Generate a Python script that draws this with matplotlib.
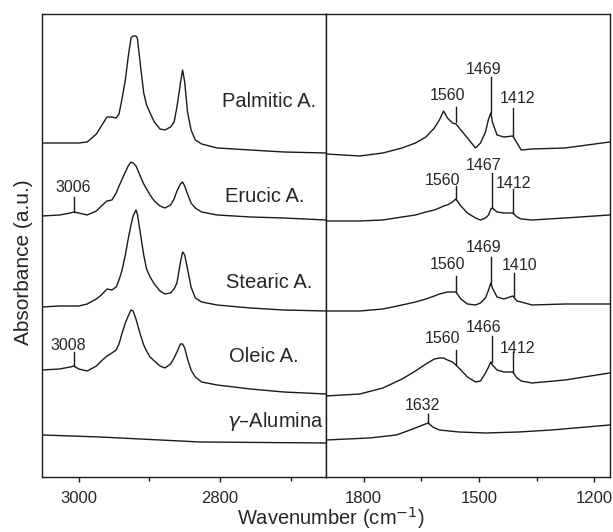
"""
FTIR spectra of fatty acids adsorbed on gamma-alumina, split x axis
(C-H stretch region on the left, carboxylate region on the right).
"""

import matplotlib

matplotlib.use("Agg")
import matplotlib.pyplot as plt
from matplotlib.ticker import FixedLocator

plt.rcParams["font.family"] = ["Liberation Sans", "DejaVu Sans"]
plt.rcParams["mathtext.fontset"] = "dejavusans"

C_LINE = "#1a1a1a"
C_TEXT = "#262626"

# ── Data: C-H stretching region (left panel) ─────────────────────────────────
LEFT_WN = [3052, 3027, 3012, 3007, 3000, 2988, 2975, 2968, 2960, 2953,
           2947, 2943, 2939, 2934, 2930, 2926, 2923, 2919, 2917, 2913,
           2908, 2904, 2899, 2893, 2885, 2878, 2870, 2865, 2861, 2856,
           2853, 2850, 2846, 2841, 2835, 2826, 2804, 2757, 2710, 2650]
palmitic_left = [3.34, 3.34, 3.34, 3.34, 3.34, 3.35, 3.43, 3.51, 3.60, 3.60,
                 3.59, 3.63, 3.77, 3.97, 4.20, 4.39, 4.41, 4.41, 4.39, 4.14,
                 3.84, 3.72, 3.64, 3.55, 3.48, 3.47, 3.50, 3.55, 3.70, 3.94,
                 4.07, 3.95, 3.65, 3.47, 3.37, 3.33, 3.29, 3.27, 3.25, 3.24]
erucic_left = [2.61, 2.62, 2.64, 2.65, 2.64, 2.62, 2.66, 2.71, 2.76, 2.77,
               2.84, 2.91, 2.97, 3.05, 3.11, 3.15, 3.14, 3.11, 3.08, 3.01,
               2.93, 2.88, 2.82, 2.76, 2.71, 2.69, 2.72, 2.78, 2.86, 2.93,
               2.95, 2.91, 2.83, 2.74, 2.69, 2.65, 2.62, 2.60, 2.59, 2.57]
stearic_left = [1.70, 1.71, 1.71, 1.71, 1.71, 1.73, 1.78, 1.82, 1.88, 1.87,
                1.90, 1.97, 2.06, 2.22, 2.38, 2.52, 2.61, 2.67, 2.63, 2.45,
                2.22, 2.08, 2.00, 1.93, 1.86, 1.83, 1.84, 1.88, 1.94, 2.15,
                2.25, 2.22, 2.08, 1.90, 1.79, 1.75, 1.72, 1.69, 1.67, 1.66]
oleic_left = [1.07, 1.08, 1.10, 1.11, 1.08, 1.06, 1.11, 1.16, 1.21, 1.24,
              1.27, 1.33, 1.43, 1.54, 1.61, 1.67, 1.66, 1.58, 1.53, 1.43,
              1.32, 1.26, 1.20, 1.16, 1.11, 1.09, 1.13, 1.19, 1.25, 1.33,
              1.33, 1.29, 1.18, 1.07, 1.00, 0.95, 0.92, 0.88, 0.85, 0.83]
ALU_L_WN = [3052, 2970, 2828, 2650]
alumina_left = [0.42, 0.40, 0.35, 0.34]

# ── Data: carboxylate region (right panel) ───────────────────────────────────
RIGHT_WN = [1898, 1810, 1750, 1700, 1665, 1638, 1616, 1603, 1592, 1582,
            1569, 1560, 1547, 1530, 1509, 1496, 1483, 1475, 1469, 1465,
            1453, 1435, 1412, 1401, 1390, 1362, 1276, 1160]
palmitic_right = [3.23, 3.21, 3.24, 3.29, 3.34, 3.40, 3.49, 3.57, 3.66, 3.59,
                  3.54, 3.53, 3.47, 3.39, 3.29, 3.34, 3.45, 3.58, 3.64, 3.55,
                  3.42, 3.40, 3.41, 3.34, 3.27, 3.28, 3.29, 3.35]
erucic_right = [2.56, 2.56, 2.57, 2.60, 2.62, 2.65, 2.67, 2.69, 2.71, 2.72,
                2.75, 2.78, 2.71, 2.64, 2.59, 2.57, 2.59, 2.62, 2.68, 2.69,
                2.65, 2.64, 2.64, 2.60, 2.58, 2.57, 2.59, 2.62]
stearic_right = [1.66, 1.66, 1.68, 1.72, 1.75, 1.78, 1.81, 1.83, 1.84, 1.85,
                 1.85, 1.85, 1.78, 1.73, 1.72, 1.74, 1.79, 1.87, 1.94, 1.89,
                 1.80, 1.78, 1.81, 1.76, 1.75, 1.72, 1.73, 1.73]
oleic_right = [0.81, 0.83, 0.89, 0.98, 1.06, 1.13, 1.18, 1.19, 1.19, 1.17,
               1.15, 1.12, 1.07, 1.00, 0.95, 0.96, 1.04, 1.10, 1.15, 1.12,
               1.07, 1.05, 1.05, 0.99, 0.96, 0.94, 0.97, 1.04]
ALU_R_WN = [1898, 1785, 1715, 1672, 1646, 1632, 1620, 1603, 1552, 1483, 1397, 1311, 1160]
alumina_right = [0.37, 0.39, 0.42, 0.48, 0.52, 0.54, 0.50, 0.47, 0.45, 0.44, 0.45, 0.47, 0.52]

# ── Curve names ──────────────────────────────────────────────────────────────
NAMES = ["Palmitic A.", "Erucic A.", "Stearic A.", "Oleic A.", r"$\gamma$–Alumina"]
NAME_WN = [2730, 2736, 2730, 2738, 2722]
NAME_Y = [3.70, 2.75, 1.89, 1.15, 0.50]

# ── Peak markers: panel, line x, line bottom/top, label, label x, label y ────
MARK_PANEL = ["L", "L", "R", "R", "R", "R", "R", "R", "R", "R", "R", "R", "R", "R", "R"]
MARK_WN = [3007, 3007, 1560, 1469, 1412, 1560, 1467, 1412, 1560, 1469, 1410, 1560, 1466, 1412, 1632]
MARK_Y0 = [2.65, 1.11, 3.55, 3.64, 3.41, 2.78, 2.69, 2.64, 1.85, 1.94, 1.81, 1.12, 1.15, 1.05, 0.54]
MARK_Y1 = [2.80, 1.25, 3.70, 4.00, 3.69, 2.91, 3.04, 2.88, 2.01, 2.20, 2.04, 1.27, 1.41, 1.25, 0.63]
MARK_TEXT = ["3006", "3008", "1560", "1469", "1412", "1560", "1467", "1412",
             "1560", "1469", "1410", "1560", "1466", "1412", "1632"]
MARK_TX = [3008, 3015, 1583, 1488, 1399, 1596, 1487, 1410, 1583, 1488, 1394, 1596, 1487, 1400, 1647]
MARK_TY = [2.85, 1.27, 3.77, 4.03, 3.74, 2.92, 3.07, 2.89, 2.08, 2.25, 2.07, 1.34, 1.45, 1.24, 0.67]

fig = plt.figure(figsize=(6.13, 5.32), dpi=100)
fig.patch.set_facecolor("white")
ax_l = fig.add_axes([0.0685, 0.1034, 0.4633, 0.8703])
ax_r = fig.add_axes([0.5318, 0.1034, 0.4633, 0.8703])

for ys in [palmitic_left, erucic_left, stearic_left, oleic_left]:
    ax_l.plot(LEFT_WN, ys, color=C_LINE, lw=1.0)
ax_l.plot(ALU_L_WN, alumina_left, color=C_LINE, lw=1.0)
for ys in [palmitic_right, erucic_right, stearic_right, oleic_right]:
    ax_r.plot(RIGHT_WN, ys, color=C_LINE, lw=1.0)
ax_r.plot(ALU_R_WN, alumina_right, color=C_LINE, lw=1.0)

ax_l.set_xlim(3052, 2650)
ax_r.set_xlim(1898, 1159)
for ax in (ax_l, ax_r):
    ax.set_ylim(0, 4.63)
    ax.set_yticks([])
    for s in ax.spines.values():
        s.set_linewidth(1.0)
        s.set_color(C_LINE)
    ax.tick_params(axis="x", which="major", direction="out", length=3.8, width=1.0,
                   pad=6, labelsize=12, colors=C_LINE, labelcolor=C_TEXT)
    ax.tick_params(axis="x", which="minor", direction="out", length=2.7, width=1.0,
                   colors=C_LINE)

ax_l.xaxis.set_major_locator(FixedLocator([3000, 2800]))
ax_l.xaxis.set_minor_locator(FixedLocator([2900, 2700]))
ax_r.xaxis.set_major_locator(FixedLocator([1800, 1500, 1200]))
ax_r.xaxis.set_minor_locator(FixedLocator([1650, 1350]))

# curve names
for name, x, y in zip(NAMES, NAME_WN, NAME_Y):
    ax_l.text(x, y, name, ha="center", va="baseline", fontsize=14.5, color=C_TEXT)

# peak markers
for p, x, y0, y1, t, tx, ty in zip(MARK_PANEL, MARK_WN, MARK_Y0, MARK_Y1,
                                   MARK_TEXT, MARK_TX, MARK_TY):
    ax = ax_l if p == "L" else ax_r
    ax.plot([x, x], [y0, y1], color=C_LINE, lw=1.0)
    ax.text(tx, ty, t, ha="center", va="baseline", fontsize=11.5, color=C_TEXT)

fig.text(0.54, 0.014, "Wavenumber (cm$^{-1}$)", ha="center", va="baseline",
         fontsize=14.5, color=C_TEXT)
fig.text(0.039, 0.508, "Absorbance (a.u.)", ha="center", va="center",
         rotation=90, fontsize=15, color=C_TEXT)

fig.savefig("out.png", dpi=100, facecolor="white")
